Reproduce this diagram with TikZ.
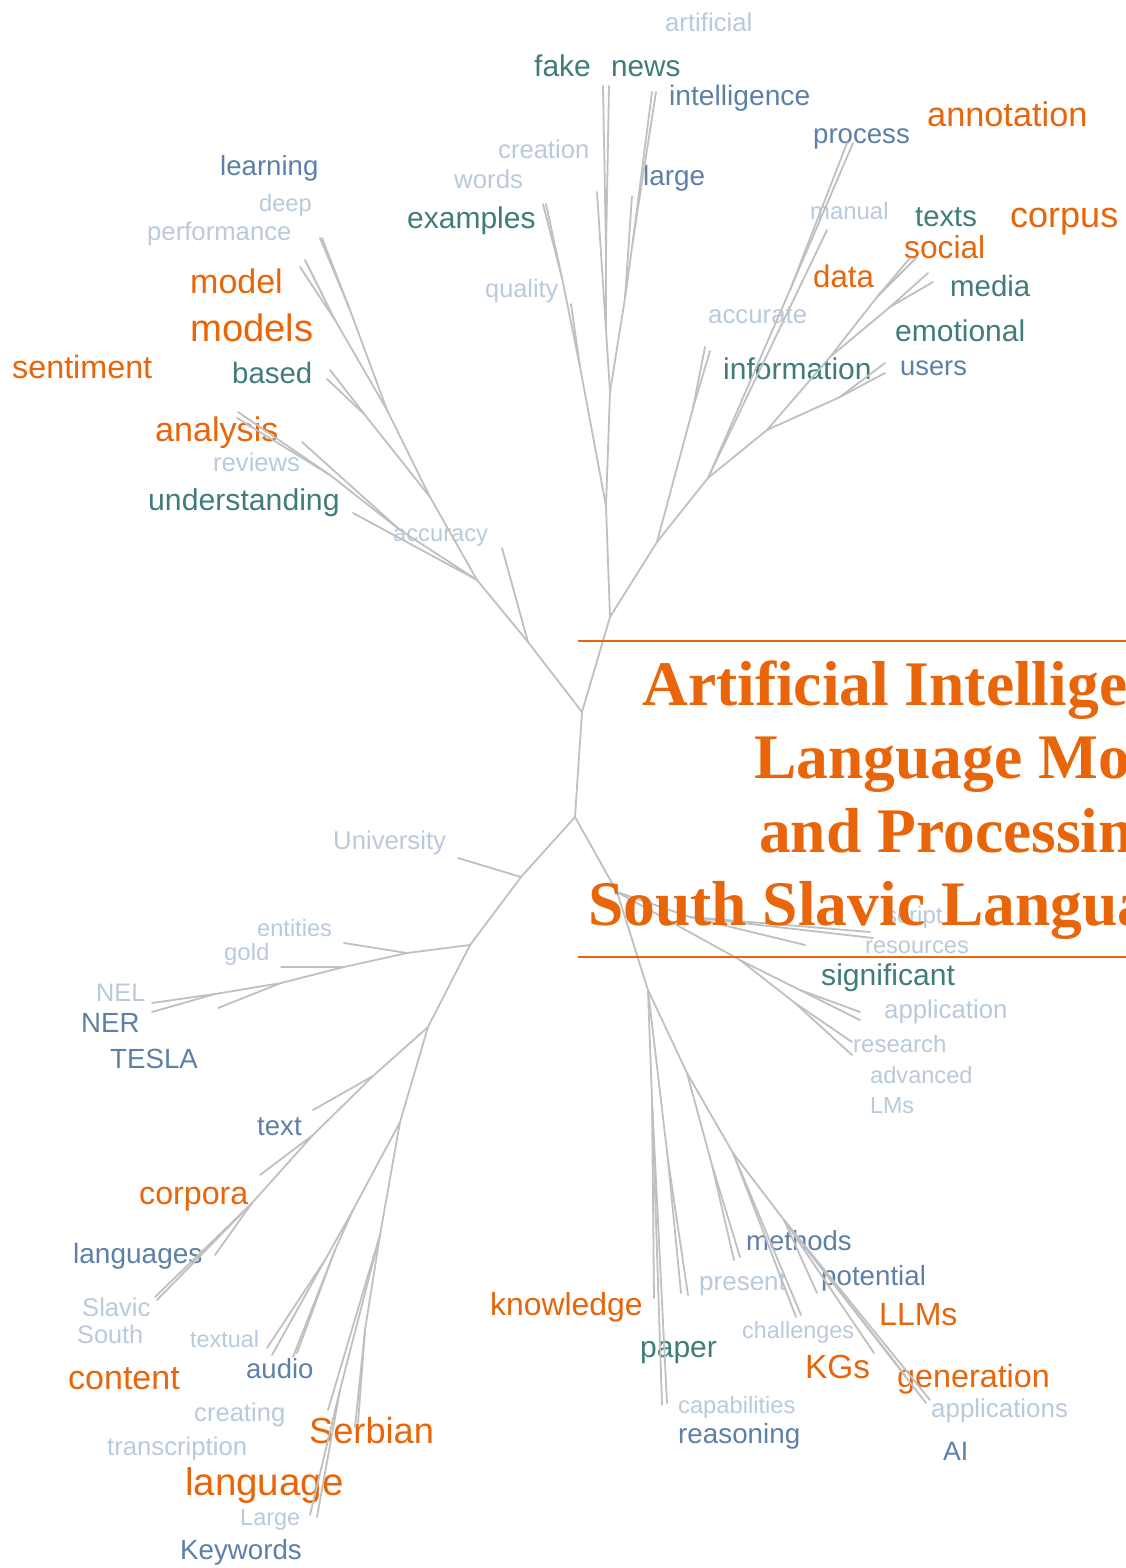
\documentclass[tikz,border=0pt]{standalone}
\usepackage{fontspec}
\setmainfont{Liberation Sans}
\newfontfamily\titlefont{Liberation Serif}
\definecolor{cO}{RGB}{232,101,10}
\definecolor{cT}{RGB}{63,124,122}
\definecolor{cB}{RGB}{93,128,168}
\definecolor{cL}{RGB}{184,202,220}
\definecolor{cEdge}{RGB}{192,192,192}
\tikzset{
  fs/.style={font=\fontsize{#1}{#1}\selectfont},
  word/.style={inner sep=0pt, anchor=base west},
  wO/.style={word, fs=#1, text=cO},
  wT/.style={word, fs=#1, text=cT},
  wB/.style={word, fs=#1, text=cB},
  wL/.style={word, fs=#1, text=cL},
  edge/.style={draw=cEdge, line width=1.8pt, line cap=round},
  rule/.style={draw=cO, line width=2pt},
  titleline/.style={inner sep=0pt, anchor=base west, text=cO,
    font=\titlefont\bfseries\fontsize{63.5}{63.5}\selectfont},
}
\begin{document}
\begin{tikzpicture}[x=1pt,y=-1pt]
\path[use as bounding box, clip] (0,0) rectangle (1126,1568);
\fill[white] (0,0) rectangle (1126,1568);

% ---------- words ----------
\node[wL=25.7] (w-artificial) at (665,32) {artificial};
\node[wT=30] (w-fake) at (534,77) {fake};
\node[wT=29.7] (w-news) at (611,77) {news};
\node[wB=28.2] (w-intelligence) at (669,106) {intelligence};
\node[wB=27.6] (w-process) at (813,143) {process};
\node[wO=34.3] (w-annotation) at (927,127) {annotation};
\node[wB=27.6] (w-learning) at (220,175) {learning};
\node[wL=25.6] (w-creation) at (498,158) {creation};
\node[wB=27.9] (w-large) at (643,185) {large};
\node[wL=25.8] (w-words) at (454,188) {words};
\node[wL=23.6] (w-deep) at (259,211) {deep};
\node[wL=23.9] (w-manual) at (810,219) {manual};
\node[wT=30] (w-examples) at (407,228) {examples};
\node[wT=29.2] (w-texts) at (915,226) {texts};
\node[wO=36] (w-corpus) at (1010,227) {corpus};
\node[wL=25.7] (w-performance) at (147,240) {performance};
\node[wO=31.7] (w-social) at (904,258) {social};
\node[wO=31.2] (w-data) at (813,287) {data};
\node[wO=34] (w-model) at (190,293) {model};
\node[wT=29.4] (w-media) at (950,296) {media};
\node[wL=25.3] (w-quality) at (485,297) {quality};
\node[wL=25.8] (w-accurate) at (708,323) {accurate};
\node[wO=38.2] (w-models) at (190,341) {models};
\node[wT=30] (w-emotional) at (895,341) {emotional};
\node[wO=32.3] (w-sentiment) at (12,378) {sentiment};
\node[wT=29.4] (w-based) at (232,383) {based};
\node[wT=30] (w-information) at (723,379) {information};
\node[wB=27.3] (w-users) at (900,375) {users};
\node[wO=34.1] (w-analysis) at (155,441) {analysis};
\node[wL=25.6] (w-reviews) at (213,471) {reviews};
\node[wT=30.2] (w-understanding) at (148,510) {understanding};
\node[wL=23.7] (w-accuracy) at (393,541) {accuracy};
\node[wL=25.7] (w-university) at (333,849) {University};
\node[wL=24] (w-script) at (885,923) {script};
\node[wL=23.6] (w-entities) at (257,936) {entities};
\node[wL=23.6] (w-resources) at (865,953) {resources};
\node[wL=23.9] (w-gold) at (224,960) {gold};
\node[wT=30.1] (w-significant) at (821,985) {significant};
\node[wL=25.3] (w-nel) at (96,1001) {NEL};
\node[wL=25.8] (w-application) at (884,1018) {application};
\node[wB=27.7] (w-ner) at (81,1032) {NER};
\node[wL=24] (w-research) at (853,1052) {research};
\node[wB=27.7] (w-tesla) at (110,1068) {TESLA};
\node[wL=23.6] (w-advanced) at (870,1083) {advanced};
\node[wL=23.2] (w-lms) at (870,1113) {LMs};
\node[wB=27.6] (w-text) at (257,1135) {text};
\node[wO=32.2] (w-corpora) at (139,1204) {corpora};
\node[wB=27.5] (w-methods) at (746,1250) {methods};
\node[wB=28] (w-languages) at (73,1263) {languages};
\node[wB=27.7] (w-potential) at (821,1285) {potential};
\node[wL=26] (w-present) at (699,1290) {present};
\node[wL=25.6] (w-slavic) at (82,1316) {Slavic};
\node[wO=31.9] (w-knowledge) at (490,1315) {knowledge};
\node[wO=32] (w-llms) at (879,1325) {LLMs};
\node[wL=23.4] (w-challenges) at (742,1338) {challenges};
\node[wL=25.3] (w-south) at (77,1343) {South};
\node[wL=23.4] (w-textual) at (190,1347) {textual};
\node[wT=30] (w-paper) at (640,1357) {paper};
\node[wB=27.5] (w-audio) at (246,1378) {audio};
\node[wO=33.4] (w-kgs) at (805,1378) {KGs};
\node[wO=32.3] (w-generation) at (897,1387) {generation};
\node[wO=34] (w-content) at (68,1389) {content};
\node[wL=23.7] (w-capabilities) at (678,1413) {capabilities};
\node[wL=25.9] (w-applications) at (931,1417) {applications};
\node[wL=25.6] (w-creating) at (194,1421) {creating};
\node[wO=36.2] (w-serbian) at (309,1443) {Serbian};
\node[wB=27.8] (w-reasoning) at (678,1443) {reasoning};
\node[wL=25.7] (w-transcription) at (107,1455) {transcription};
\node[wB=26.6] (w-ai) at (943,1460) {AI};
\node[wO=38.5] (w-language) at (185,1495) {language};
\node[wL=23.5] (w-large2) at (240,1525) {Large};
\node[wB=27.7] (w-keywords) at (180,1559) {Keywords};

% ---------- tree: junctions and leaf ends ----------
\coordinate (T) at (582,712);
\coordinate (B) at (575,817);
% upper right
\coordinate (UR) at (610,617);
\coordinate (Jm) at (606,506);
\coordinate (Jq) at (580,367);
\coordinate (Lq) at (571,304);
\coordinate (Jex) at (562,278);
\coordinate (Lex1) at (543,204);
\coordinate (Lex2) at (546,204);
\coordinate (Jv) at (610,392);
\coordinate (Jc) at (606,330);
\coordinate (Lcr) at (597,192);
\coordinate (Jf) at (606,250);
\coordinate (Lfa) at (603,86);
\coordinate (Lne) at (609,86);
\coordinate (Jl) at (625,298);
\coordinate (Lla) at (632,196);
\coordinate (Ji) at (633,240);
\coordinate (Lin1) at (652,92);
\coordinate (Lin2) at (656,92);
\coordinate (Jinfo) at (657,542);
\coordinate (Jacc) at (693,408);
\coordinate (Lac1) at (705,347);
\coordinate (Lac2) at (710,351);
\coordinate (Jd) at (708,478);
\coordinate (Jp) at (790,290);
\coordinate (Lpr1) at (847,143);
\coordinate (Lpr2) at (853,143);
\coordinate (Lman) at (827,230);
\coordinate (Jsm) at (767,430);
\coordinate (Jsoc) at (830,357);
\coordinate (Jso) at (877,297);
\coordinate (Lso1) at (910,258);
\coordinate (Lso2) at (917,257);
\coordinate (Jme) at (890,307);
\coordinate (Lme1) at (928,273);
\coordinate (Lme2) at (933,282);
\coordinate (Jus) at (840,397);
\coordinate (Lus1) at (885,363);
\coordinate (Lus2) at (885,373);
% upper left
\coordinate (UL) at (528,642);
\coordinate (Laccu) at (502,548);
\coordinate (Ja) at (477,580);
\coordinate (Lund) at (353,513);
\coordinate (Jb) at (400,530);
\coordinate (Lrev) at (302,442);
\coordinate (Jan) at (330,475);
\coordinate (Lan1) at (238,412);
\coordinate (Lan2) at (237,418);
\coordinate (Jd2) at (430,497);
\coordinate (Jbs) at (365,415);
\coordinate (Lbs1) at (327,379);
\coordinate (Lbs2) at (330,370);
\coordinate (Je) at (387,410);
\coordinate (Jmo) at (335,320);
\coordinate (Lmo1) at (305,260);
\coordinate (Lmo2) at (300,267);
\coordinate (Jle) at (350,310);
\coordinate (Lle1) at (320,238);
\coordinate (Lle2) at (322,238);
% lower left
\coordinate (DL) at (521,877);
\coordinate (Luni) at (458,858);
\coordinate (Jent) at (470,945);
\coordinate (Je1) at (407,953);
\coordinate (Lent) at (344,943);
\coordinate (Jg) at (344,967);
\coordinate (Lgo) at (281,967);
\coordinate (Jt) at (281,983);
\coordinate (Lte) at (218,1008);
\coordinate (Jn) at (215,994);
\coordinate (Lnel) at (152,1003);
\coordinate (Lner) at (152,1012);
\coordinate (Jtx) at (428,1027);
\coordinate (Jtt) at (373,1076);
\coordinate (Ltx) at (313,1110);
\coordinate (Jco) at (313,1135);
\coordinate (Lco) at (260,1175);
\coordinate (Jla) at (252,1203);
\coordinate (Lla2) at (215,1255);
\coordinate (Lsl1) at (155,1297);
\coordinate (Lsl2) at (157,1300);
\coordinate (Js) at (400,1122);
\coordinate (Jau) at (353,1210);
\coordinate (Jtxl) at (325,1260);
\coordinate (Ltl1) at (267,1348);
\coordinate (Ltl2) at (272,1355);
\coordinate (Jaud) at (335,1250);
\coordinate (Lau1) at (293,1357);
\coordinate (Lau2) at (297,1353);
\coordinate (Jse) at (380,1235);
\coordinate (Lcrt) at (328,1410);
\coordinate (Jlg) at (340,1390);
\coordinate (Llg1) at (310,1515);
\coordinate (Llg2) at (317,1517);
\coordinate (Jsb) at (365,1330);
\coordinate (Lsb1) at (355,1427);
\coordinate (Lsb2) at (358,1423);
% lower right
\coordinate (Jbr) at (617,892);
\coordinate (Jsr) at (690,917);
\coordinate (Lsc1) at (870,932);
\coordinate (Lsc2) at (873,938);
\coordinate (Lres) at (805,945);
\coordinate (Jsig) at (740,960);
\coordinate (Jsa) at (800,990);
\coordinate (Lsa1) at (860,1012);
\coordinate (Lsa2) at (860,1020);
\coordinate (Jre) at (795,1003);
\coordinate (Lre1) at (852,1042);
\coordinate (Lre2) at (852,1055);
\coordinate (Jk) at (648,990);
\coordinate (Jkn) at (652,1100);
\coordinate (Lkn) at (654,1298);
\coordinate (Lpa1) at (662,1405);
\coordinate (Lpa2) at (667,1403);
\coordinate (Jpr) at (668,1160);
\coordinate (Lpr3) at (681,1293);
\coordinate (Lpr4) at (688,1295);
\coordinate (Jm2) at (687,1073);
\coordinate (Jmt) at (712,1165);
\coordinate (Lmt1) at (734,1260);
\coordinate (Lmt2) at (740,1257);
\coordinate (Jch) at (733,1153);
\coordinate (Lch1) at (796,1317);
\coordinate (Lch2) at (801,1315);
\coordinate (Jgen) at (784,1220);
\coordinate (Lpot) at (817,1293);
\coordinate (Lkg) at (874,1353);
\coordinate (Lge1) at (905,1375);
\coordinate (Lge2) at (926,1403);
\coordinate (Lge3) at (930,1400);

% ---------- tree: edges ----------
\foreach \a/\b in {T/B, T/UR, UR/Jm, Jm/Jq, Jq/Lq, Jq/Jex, Jex/Lex1, Jex/Lex2,
  Jm/Jv, Jv/Jc, Jc/Lcr, Jc/Jf, Jf/Lfa, Jf/Lne, Jv/Jl, Jl/Lla, Jl/Ji, Ji/Lin1, Ji/Lin2,
  UR/Jinfo, Jinfo/Jacc, Jacc/Lac1, Jacc/Lac2, Jinfo/Jd, Jd/Jp, Jp/Lpr1, Jp/Lpr2,
  Jd/Lman, Jd/Jsm, Jsm/Jsoc, Jsoc/Jso, Jso/Lso1, Jso/Lso2, Jsoc/Jme, Jme/Lme1, Jme/Lme2,
  Jsm/Jus, Jus/Lus1, Jus/Lus2,
  T/UL, UL/Laccu, UL/Ja, Ja/Lund, Ja/Jb, Jb/Lrev, Jb/Jan, Jan/Lan1, Jan/Lan2,
  Ja/Jd2, Jd2/Jbs, Jbs/Lbs1, Jbs/Lbs2, Jd2/Je, Je/Jmo, Jmo/Lmo1, Jmo/Lmo2,
  Je/Jle, Jle/Lle1, Jle/Lle2,
  B/DL, DL/Luni, DL/Jent, Jent/Je1, Je1/Lent, Je1/Jg, Jg/Lgo, Jg/Jt, Jt/Lte, Jt/Jn,
  Jn/Lnel, Jn/Lner, Jent/Jtx, Jtx/Jtt, Jtt/Ltx, Jtt/Jco, Jco/Lco, Jco/Jla, Jla/Lla2,
  Jla/Lsl1, Jla/Lsl2, Jtx/Js, Js/Jau, Jau/Jtxl, Jtxl/Ltl1, Jtxl/Ltl2, Jau/Jaud,
  Jaud/Lau1, Jaud/Lau2, Js/Jse, Jse/Lcrt, Jse/Jlg, Jlg/Llg1, Jlg/Llg2, Jse/Jsb,
  Jsb/Lsb1, Jsb/Lsb2,
  B/Jbr, Jbr/Jsr, Jsr/Lsc1, Jsr/Lsc2, Jsr/Lres, Jbr/Jsig, Jsig/Jsa, Jsa/Lsa1, Jsa/Lsa2,
  Jsig/Jre, Jre/Lre1, Jre/Lre2, Jbr/Jk, Jk/Jkn, Jkn/Lkn, Jkn/Lpa1, Jkn/Lpa2,
  Jk/Jpr, Jpr/Lpr3, Jpr/Lpr4, Jk/Jm2, Jm2/Jmt, Jmt/Lmt1, Jmt/Lmt2, Jm2/Jch,
  Jch/Lch1, Jch/Lch2, Jch/Jgen, Jgen/Lpot, Jgen/Lkg, Jgen/Lge1, Jgen/Lge2, Jgen/Lge3}
  \draw[edge] (\a) -- (\b);

% ---------- title block ----------
\coordinate (R1a) at (578,641);
\coordinate (R1b) at (1130,641);
\coordinate (R2a) at (578,957);
\coordinate (R2b) at (1130,957);
\draw[rule] (R1a) -- (R1b);
\draw[rule] (R2a) -- (R2b);
\node[titleline] (title1) at (642,705) {Artificial Intelligence};
\node[titleline] (title2) at (754,778) {Language Models};
\node[titleline] (title3) at (759,852) {and Processing};
\node[titleline] (title4) at (588,925) {South Slavic Languages};
\end{tikzpicture}
\end{document}
